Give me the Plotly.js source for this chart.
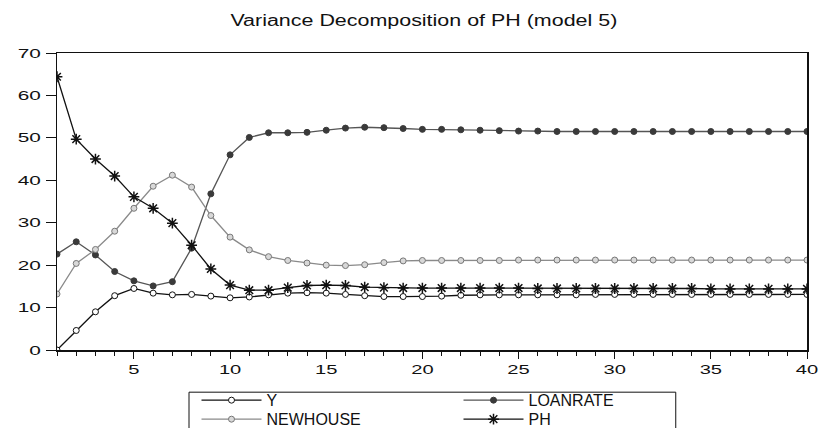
<!DOCTYPE html>
<html>
<head>
<meta charset="utf-8">
<script src="https://cdn.plot.ly/plotly-3.0.1.min.js"></script>
<style>html,body{margin:0;padding:0;background:#fff;}#chart{width:823px;height:428px;}</style>
</head>
<body>
<div id="chart"></div>
<script>
const periods = Array.from({length: 40}, (_, i) => i + 1);
const seriesY = [0.0, 4.6, 9.0, 12.8, 14.5, 13.4, 13.0, 13.1, 12.7, 12.3, 12.5, 13.0, 13.4, 13.5, 13.4, 13.1, 12.8, 12.6, 12.6, 12.6,
  12.7, 12.9, 13.0, 13.0, 13.0, 13.0, 13.0, 13.0, 13.1, 13.1, 13.1, 13.1, 13.1, 13.1, 13.1, 13.1, 13.1, 13.1, 13.1, 13.1];
const seriesLoanrate = [22.6, 25.5, 22.4, 18.5, 16.3, 15.1, 16.1, 24.0, 36.8, 46.0, 50.1, 51.2, 51.2, 51.3, 51.8, 52.3, 52.5, 52.4, 52.2, 52.0,
  52.0, 51.9, 51.8, 51.7, 51.6, 51.6, 51.5, 51.5, 51.5, 51.5, 51.5, 51.5, 51.5, 51.5, 51.5, 51.5, 51.5, 51.5, 51.5, 51.5];
const seriesNewhouse = [13.2, 20.4, 23.7, 28.0, 33.4, 38.6, 41.2, 38.4, 31.7, 26.6, 23.6, 22.0, 21.1, 20.5, 20.0, 19.9, 20.1, 20.6, 21.0, 21.1,
  21.1, 21.1, 21.1, 21.1, 21.2, 21.2, 21.2, 21.2, 21.2, 21.2, 21.2, 21.2, 21.2, 21.2, 21.2, 21.2, 21.2, 21.2, 21.2, 21.2];
const seriesPH = [64.4, 49.7, 45.0, 41.0, 36.1, 33.4, 29.9, 24.7, 19.1, 15.3, 14.1, 14.1, 14.7, 15.2, 15.3, 15.2, 14.8, 14.7, 14.6, 14.6,
  14.6, 14.6, 14.6, 14.6, 14.6, 14.5, 14.5, 14.5, 14.5, 14.5, 14.5, 14.5, 14.5, 14.5, 14.4, 14.4, 14.4, 14.4, 14.4, 14.4];
const xTickVals = [5, 10, 15, 20, 25, 30, 35, 40];
const yTickVals = [0, 10, 20, 30, 40, 50, 60, 70];

const traces = [
  {x: periods, y: seriesY, name: 'Y', mode: 'lines+markers', legend: 'legend',
   line: {color: '#111', width: 1.3},
   marker: {symbol: 'circle', size: 6, color: '#fff', line: {color: '#111', width: 1}}},
  {x: periods, y: seriesLoanrate, name: 'LOANRATE', mode: 'lines+markers', legend: 'legend',
   line: {color: '#555', width: 1.3},
   marker: {symbol: 'circle', size: 6, color: '#3a3a3a', line: {color: '#3a3a3a', width: 1}}},
  {x: periods, y: seriesNewhouse, name: 'NEWHOUSE', mode: 'lines+markers', legend: 'legend2',
   line: {color: '#8a8a8a', width: 1.3},
   marker: {symbol: 'circle', size: 6, color: '#d8d8d8', line: {color: '#777', width: 1}}},
  {x: periods, y: seriesPH, name: 'PH', mode: 'lines+markers', legend: 'legend2',
   line: {color: '#111', width: 1.3},
   marker: {symbol: 'asterisk-open', size: 9, color: '#111', line: {color: '#111', width: 1.5}}}
];

const legendCommon = {orientation: 'h', xanchor: 'left', yanchor: 'top',
  entrywidth: 187, entrywidthmode: 'pixels', itemwidth: 60,
  borderwidth: 0, bgcolor: 'rgba(0,0,0,0)', font: {size: 16, color: '#111'}};

const layout = {
  width: 823, height: 428,
  margin: {l: 57, r: 16, t: 53, b: 78, autoexpand: false},
  paper_bgcolor: '#fff', plot_bgcolor: '#fff',
  font: {family: 'Liberation Sans, Arial, sans-serif', color: '#111', size: 13},
  title: {text: 'Variance Decomposition of PH (model 5)', x: 0.515, xanchor: 'center', y: 0.952, yanchor: 'middle',
    font: {size: 16, color: '#111'}},
  xaxis: {range: [1, 40], tickvals: xTickVals, ticks: 'outside', ticklen: 7, tickwidth: 1, tickcolor: '#111',
    showline: true, linecolor: '#111', linewidth: 1.5, mirror: true, showgrid: false, zeroline: false,
    tickfont: {size: 13},
    minor: {dtick: 1, tick0: 1, ticks: 'outside', ticklen: 4, tickcolor: '#111', showgrid: false}},
  yaxis: {range: [0, 70], tickvals: yTickVals, ticks: 'outside', ticklen: 10, tickwidth: 1, tickcolor: '#111',
    showline: true, linecolor: '#111', linewidth: 1.5, mirror: true, showgrid: false, zeroline: false,
    tickfont: {size: 13}, ticklabelstandoff: 2},
  showlegend: true,
  legend: Object.assign({}, legendCommon, {x: 0.186, y: -0.112}),
  legend2: Object.assign({}, legendCommon, {x: 0.186, y: -0.176}),
  shapes: [{type: 'rect', xref: 'paper', yref: 'paper', x0: 0.176, x1: 0.825, y0: -0.142, y1: -0.32,
    line: {color: '#111', width: 1}, fillcolor: 'rgba(0,0,0,0)', layer: 'below'}]
};

const measureCtx = document.createElement('canvas').getContext('2d');
function stretchEl(t, factor) {
  const cs = window.getComputedStyle(t);
  measureCtx.font = cs.fontWeight + ' ' + cs.fontSize + ' ' + cs.fontFamily;
  const w = measureCtx.measureText(t.textContent).width;
  if (w > 0) {
    const target = (w * factor).toFixed(1);
    if (t.getAttribute('textLength') !== target) {
      t.setAttribute('textLength', target);
      t.setAttribute('lengthAdjust', 'spacingAndGlyphs');
    }
  }
}
function stretchAll() {
  const root = document.getElementById('chart');
  root.querySelectorAll('.ytick text').forEach(t => stretchEl(t, 1.6));
  root.querySelectorAll('.xtick text').forEach(t => stretchEl(t, 1.55));
  root.querySelectorAll('text.gtitle').forEach(t => stretchEl(t, 1.34));
}

const gd = document.getElementById('chart');
Plotly.newPlot(gd, traces, layout, {displayModeBar: false, staticPlot: true}).then(() => {
  stretchAll();
  gd.on('plotly_afterplot', stretchAll);
  setTimeout(stretchAll, 50);
});
</script>
</body>
</html>
